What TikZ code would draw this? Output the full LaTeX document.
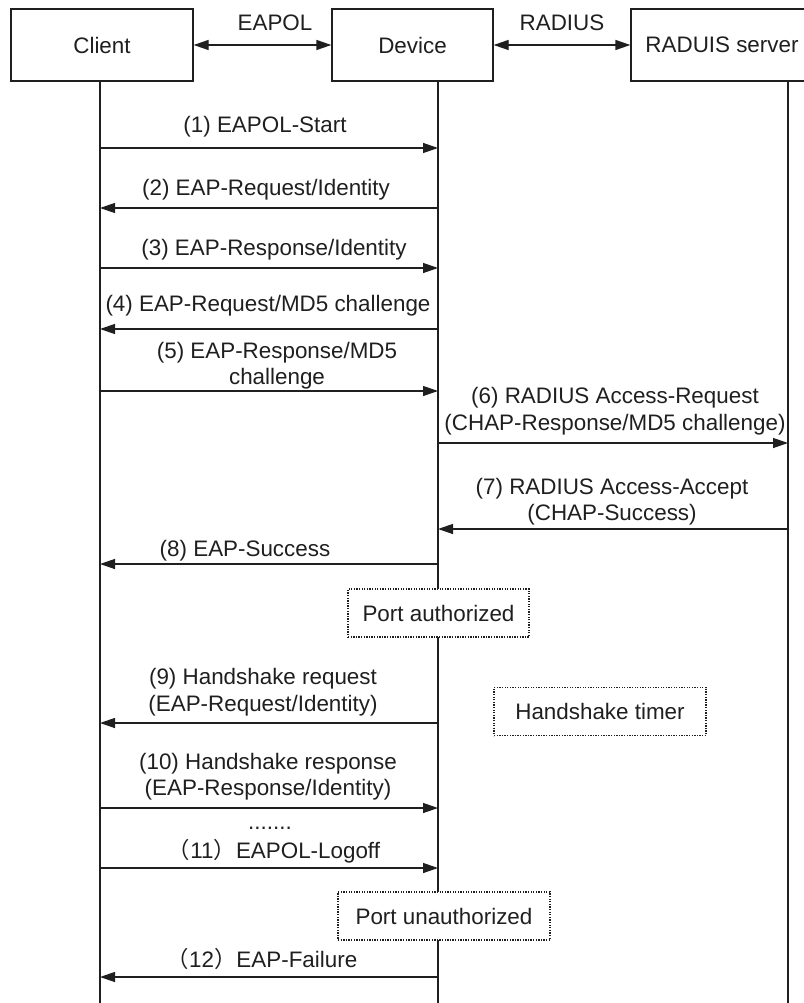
\documentclass[tikz,border=0pt]{standalone}
\usepackage{fontspec}
\setmainfont{Liberation Sans}
\newfontfamily\cjk{Noto Sans CJK SC}
\usetikzlibrary{arrows.meta}
\begin{document}
\begin{tikzpicture}[x=1pt,y=-1pt,
  ink/.style={black!88},
  txt/.style={font=\fontsize{22.4}{26.5}\selectfont, inner sep=0pt, align=center, text=black!88},
  actor/.style={draw=black!88, line width=1.3pt, fill=white, minimum height=72pt,
                inner sep=0pt, font=\fontsize{22.4}{26.5}\selectfont, text=black!88},
  state/.style={draw=black!88, line width=1.1pt, dash pattern=on 1.3pt off 1.3pt,
                fill=white, minimum height=48pt, inner sep=0pt,
                font=\fontsize{22.4}{26.5}\selectfont, text=black!88},
  life/.style={draw=black!88, line width=1.3pt},
  msg/.style={draw=black!88, line width=1.3pt, -{Triangle[length=15pt,width=10pt]}},
  both/.style={draw=black!88, line width=1.3pt,
               {Triangle[length=15pt,width=10pt]}-{Triangle[length=15pt,width=10pt]}}
]
\useasboundingbox (0,0) rectangle (803,1003);

% participants
\node[actor, minimum width=182pt] (client) at (102,45) {Client};
\node[actor, minimum width=161pt] (device) at (412.5,45) {Device};
\node[actor, minimum width=182pt] (server) at (722,45) {RADUIS server};

% protocol links between participants
\draw[both] (client.east) -- (device.west);
\draw[both] (device.east) -- (server.west);
\node[txt] (eapol)  at (275,23) {EAPOL};
\node[txt] (radius) at (562,23) {RADIUS};

% lifelines
\coordinate (cTop) at (100,81);  \coordinate (cBot) at (100,1003);
\coordinate (dTop) at (438,81);  \coordinate (dBot) at (438,1003);
\coordinate (sTop) at (788,81);  \coordinate (sBot) at (788,1003);
\draw[life] (cTop) -- (cBot);
\draw[life] (dTop) -- (dBot);
\draw[life] (sTop) -- (sBot);

% message end points on the lifelines
\coordinate (c1) at (100,148);  \coordinate (d1) at (438,148);
\coordinate (c2) at (100,208);  \coordinate (d2) at (438,208);
\coordinate (c3) at (100,268);  \coordinate (d3) at (438,268);
\coordinate (c4) at (100,329);  \coordinate (d4) at (438,329);
\coordinate (c5) at (100,391);  \coordinate (d5) at (438,391);
\coordinate (d6) at (438,443);  \coordinate (s6) at (788,443);
\coordinate (d7) at (438,529);  \coordinate (s7) at (788,529);
\coordinate (c8) at (100,564);  \coordinate (d8) at (438,564);
\coordinate (c9) at (100,723);  \coordinate (d9) at (438,723);
\coordinate (c10) at (100,808); \coordinate (d10) at (438,808);
\coordinate (c11) at (100,868); \coordinate (d11) at (438,868);
\coordinate (c12) at (100,977); \coordinate (d12) at (438,977);

% messages
\draw[msg] (c1) -- (d1);
\node[txt, anchor=base] (l1) at (265,133) {(1) EAPOL-Start};
\draw[msg] (d2) -- (c2);
\node[txt, anchor=base] (l2) at (266,195) {(2) EAP-Request/Identity};
\draw[msg] (c3) -- (d3);
\node[txt, anchor=base] (l3) at (274,255) {(3) EAP-Response/Identity};
\draw[msg] (d4) -- (c4);
\node[txt, anchor=base] (l4) at (268,311) {(4) EAP-Request/MD5 challenge};
\draw[msg] (c5) -- (d5);
\node[txt] (l5) at (277,365.5) {(5) EAP-Response/MD5\\challenge};
\draw[msg] (d6) -- (s6);
\node[txt] (l6) at (615,411) {(6) RADIUS Access-Request\\(CHAP-Response/MD5 challenge)};
\draw[msg] (s7) -- (d7);
\node[txt] (l7) at (612,501.5) {(7) RADIUS Access-Accept\\(CHAP-Success)};
\draw[msg] (d8) -- (c8);
\node[txt, anchor=base] (l8) at (245,556) {(8) EAP-Success};

\node[state, minimum width=181pt] (auth) at (438.5,613) {Port authorized};

\draw[msg] (d9) -- (c9);
\node[txt] (l9) at (263,692) {(9) Handshake request\\(EAP-Request/Identity)};
\node[state, minimum width=212pt] (timer) at (600,711.5) {Handshake timer};

\draw[msg] (c10) -- (d10);
\node[txt] (l10) at (268,776.5) {(10) Handshake response\\(EAP-Response/Identity)};
\node[txt, anchor=base] (dots) at (270,829) {.......};
\draw[msg] (c11) -- (d11);
\node[txt, anchor=base] (l11) at (274,858) {{\cjk （}11{\cjk ）}EAPOL-Logoff};

\node[state, minimum width=212pt] (unauth) at (444,916) {Port unauthorized};

\draw[msg] (d12) -- (c12);
\node[txt, anchor=base] (l12) at (262,967) {{\cjk （}12{\cjk ）}EAP-Failure};
\end{tikzpicture}
\end{document}
